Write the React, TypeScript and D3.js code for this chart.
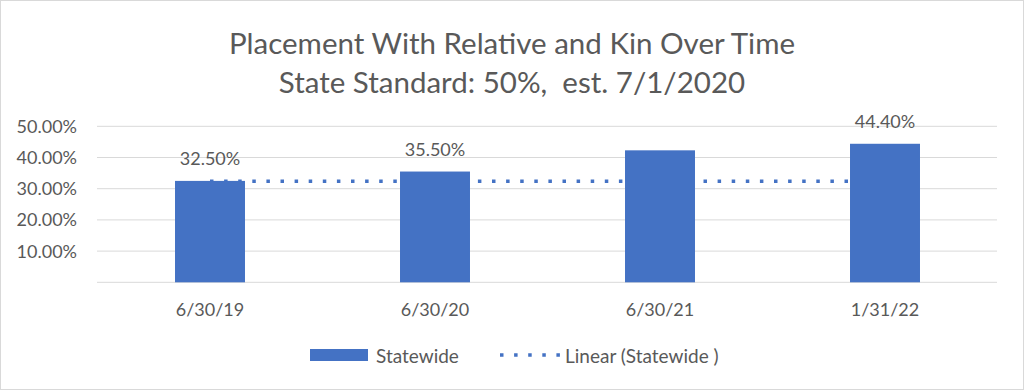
import React from "react";
import * as d3 from "d3";

const categories = ["6/30/19", "6/30/20", "6/30/21", "1/31/22"];
const statewide = [32.5, 35.5, 42.3, 44.4];
const dataLabels = ["32.50%", "35.50%", "", "44.40%"];
const trendValues = [32.4, 32.4];
const gridTicks = [0, 10, 20, 30, 40, 50];
const tickLabels = ["", "10.00%", "20.00%", "30.00%", "40.00%", "50.00%"];
const titleLines = ["Placement With Relative and Kin Over Time", "State Standard: 50%,  est. 7/1/2020"];

const W = 1024, H = 390;
const FONT = "Lato, 'Open Sans', sans-serif";
const TEXT = "#595959";
const BAR = "#4472C4";

export default function App() {
  const x = d3.scaleBand().domain(categories).range([97.5, 997.5]).paddingInner(0.689).paddingOuter(0.3445);
  const y = d3.scaleLinear().domain([0, 50]).range([282.3, 126.3]);
  const cx = (c: string) => (x(c) as number) + x.bandwidth() / 2;
  const trendLine = d3.line<number>()
    .x((_, i) => cx(categories[i === 0 ? 0 : categories.length - 1]))
    .y((d) => y(d));
  return (
    <svg width={W} height={H} style={{ position: "absolute", left: 0, top: 0, background: "#fff" }} fontFamily={FONT}>
      <rect x={0.5} y={0.5} width={W - 1} height={H - 1} fill="#fff" stroke="#d9d9d9" />
      {titleLines.map((t, i) => (
        <text key={t} x={512} y={54 + i * 39} textAnchor="middle" fontSize={29.5} fill={TEXT} style={{ whiteSpace: "pre" }}>{t}</text>
      ))}
      {gridTicks.map((t, i) => (
        <g key={t}>
          <line x1={97} x2={997} y1={y(t)} y2={y(t)} stroke="#d9d9d9" strokeWidth={1} />
          {tickLabels[i] && (
            <text x={77} y={y(t) + 6.5} textAnchor="end" fontSize={18} fill={TEXT}>{tickLabels[i]}</text>
          )}
        </g>
      ))}
      <path d={trendLine(trendValues) || ""} fill="none" stroke={BAR} strokeWidth={3.5} strokeDasharray="3.5 10.6" />
      {categories.map((c, i) => (
        <g key={c}>
          <rect x={x(c)} y={y(statewide[i])} width={x.bandwidth()} height={y(0) - y(statewide[i])} fill={BAR} />
          {dataLabels[i] && (
            <text x={cx(c)} y={y(statewide[i]) - 16} textAnchor="middle" fontSize={18} fill={TEXT}>{dataLabels[i]}</text>
          )}
          <text x={cx(c)} y={316} textAnchor="middle" fontSize={18} fill={TEXT}>{c}</text>
        </g>
      ))}
      <rect x={310} y={349} width={58} height={12} fill={BAR} />
      <text x={376} y={363} fontSize={19} fill={TEXT}>Statewide</text>
      <line x1={500} x2={560} y1={355} y2={355} stroke={BAR} strokeWidth={3.5} strokeDasharray="3.5 10.6" />
      <text x={565} y={363} fontSize={19} fill={TEXT}>Linear (Statewide )</text>
    </svg>
  );
}
